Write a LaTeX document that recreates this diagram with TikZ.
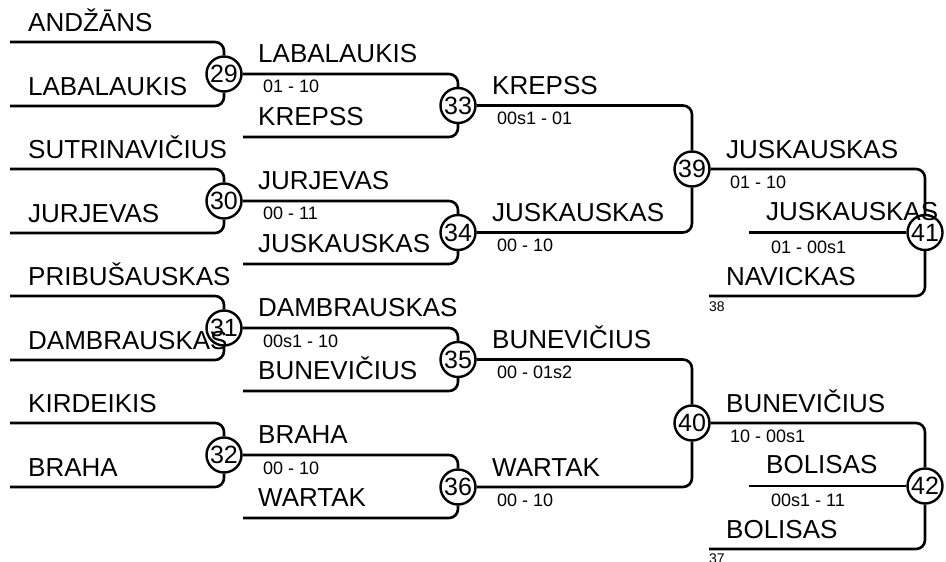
\documentclass[tikz,border=0pt]{standalone}
\usepackage{fontspec}
\setmainfont{Liberation Sans}
\tikzset{
  match/.style={circle, draw, line width=2.4pt, inner sep=0pt, minimum size=35pt,
    font=\fontsize{25}{25}\selectfont},
  player/.style={anchor=base west, inner sep=0pt, font=\fontsize{26}{26}\selectfont},
  score/.style={anchor=base west, inner sep=0pt, font=\fontsize{18}{18}\selectfont},
  seed/.style={anchor=base west, inner sep=0pt, font=\fontsize{14}{14}\selectfont},
  link/.style={line width=2.6pt, rounded corners=9pt}
}
\begin{document}
\begin{tikzpicture}[x=1pt, y=-1pt]
      \useasboundingbox (0,0) rectangle (946,562);
      \draw
        (224,74) node[match] (29){29}
        (224,201) node[match] (30){30}
        (224,328) node[match] (31){31}
        (224,455) node[match] (32){32}
        (458,105.5) node[match] (33){33}
        (458,232.5) node[match] (34){34}
        (458,359.5) node[match] (35){35}
        (458,487) node[match] (36){36}
        (692,169) node[match] (39){39}
        (692,423) node[match] (40){40}
        (925,232.5) node[match] (41){41}
        (925,486) node[match] (42){42};
      \coordinate (t29) at (10,42);   \coordinate (b29) at (10,106);
      \coordinate (t30) at (10,169);  \coordinate (b30) at (10,233);
      \coordinate (t31) at (10,296);  \coordinate (b31) at (10,360);
      \coordinate (t32) at (10,423);  \coordinate (b32) at (10,487);
      \coordinate (e33) at (243,137); \coordinate (e34) at (243,264);
      \coordinate (e35) at (243,391); \coordinate (e36) at (243,518);
      \coordinate (w41) at (749,232.5); \coordinate (e41) at (709,296);
      \coordinate (w42) at (749,486);   \coordinate (e42) at (709,549);
      % first round
      \node[player] (n1) at (28,31) {ANDŽĀNS};
      \node[player] (n2) at (28,95) {LABALAUKIS};
      \node[player] (n3) at (28,158) {SUTRINAVIČIUS};
      \node[player] (n4) at (28,222) {JURJEVAS};
      \node[player] (n5) at (28,285) {PRIBUŠAUSKAS};
      \node[player] (n6) at (28,349) {DAMBRAUSKAS};
      \node[player] (n7) at (28,412) {KIRDEIKIS};
      \node[player] (n8) at (28,476) {BRAHA};
      % second round
      \node[player] (w29) at (258,62) {LABALAUKIS};
      \node[score] (s29) at (263,92) {01 - 10};
      \node[player] (n33) at (258,125) {KREPSS};
      \node[player] (w30) at (258,189) {JURJEVAS};
      \node[player] (n34) at (258,252) {JUSKAUSKAS};
      \node[score] (s30) at (263,219) {00 - 11};
      \node[player] (w31) at (258,316) {DAMBRAUSKAS};
      \node[score] (s31) at (263,347) {00s1 - 10};
      \node[player] (n35) at (258,379) {BUNEVIČIUS};
      \node[player] (w32) at (258,443) {BRAHA};
      \node[score] (s32) at (263,474) {00 - 10};
      \node[player] (n36) at (258,506) {WARTAK};
      % third round
      \node[player] (w33) at (492,94) {KREPSS};
      \node[score] (s33) at (497,124) {00s1 - 01};
      \node[player] (w34) at (492,221) {JUSKAUSKAS};
      \node[score] (s34) at (497,251) {00 - 10};
      \node[player] (w35) at (492,348) {BUNEVIČIUS};
      \node[score] (s35) at (497,378) {00 - 01s2};
      \node[player] (w36) at (492,476) {WARTAK};
      \node[score] (s36) at (497,506) {00 - 10};
      % last rounds
      \node[player] (w39) at (726,158) {JUSKAUSKAS};
      \node[score] (s39) at (730,188) {01 - 10};
      \node[player] (w41t) at (766,220) {JUSKAUSKAS};
      \node[score] (s41) at (771,253) {01 - 00s1};
      \node[player] (n41) at (726,285) {NAVICKAS};
      \node[seed] (r41) at (709,311) {38};
      \node[player] (w40) at (726,412) {BUNEVIČIUS};
      \node[score] (s40) at (730,442) {10 - 00s1};
      \node[player] (w42t) at (766,473) {BOLISAS};
      \node[score] (s42) at (771,506) {00s1 - 11};
      \node[player] (n42) at (726,538) {BOLISAS};
      \node[seed] (r42) at (709,563) {37};
      \begin{scope}[link]
        \draw (t29) -| (29);
        \draw (b29) -| (29);
        \draw (t30) -| (30);
        \draw (b30) -| (30);
        \draw (t31) -| (31);
        \draw (b31) -| (31);
        \draw (t32) -| (32);
        \draw (b32) -| (32);
        \draw (29) -| (33);
        \draw (e33) -| (33);
        \draw (30) -| (34);
        \draw (e34) -| (34);
        \draw (31) -| (35);
        \draw (e35) -| (35);
        \draw (32) -| (36);
        \draw (e36) -| (36);
        \draw (33) -| (39);
        \draw (34) -| (39);
        \draw (35) -| (40);
        \draw (36) -| (40);
        \draw (39) -| (41);
        \draw (e41) -| (41);
        \draw (41) -- (w41);
        \draw (40) -| (42);
        \draw (e42) -| (42);
        \draw (42) -- (w42);
      \end{scope}
    \end{tikzpicture}
\end{document}
